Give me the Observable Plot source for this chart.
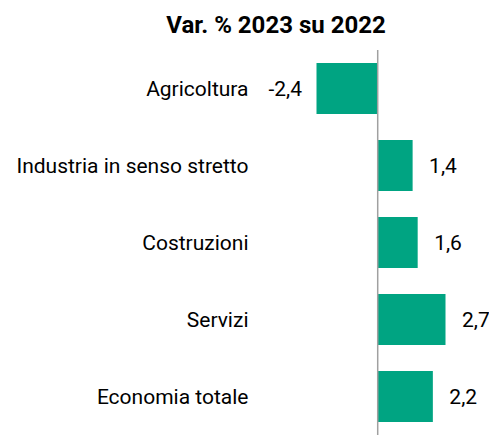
<!DOCTYPE html>
<html>
<head>
<meta charset="utf-8">
<script src="https://cdn.jsdelivr.net/npm/d3@7"></script>
<script src="https://cdn.jsdelivr.net/npm/@observablehq/plot@0.6"></script>
<style>
  html, body { margin: 0; padding: 0; background: #fff; }
  body { width: 489px; height: 435px; overflow: hidden; font-family: Roboto, sans-serif; }
  #title { box-sizing: border-box; height: 50px; padding-top: 12.8px; padding-left: 63px; width: 489px;
           text-align: center; font: bold 24px/24px Roboto, sans-serif; color: #000; }
</style>
</head>
<body>
<div id="title">Var. % 2023 su 2022</div>
<div id="chart"></div>
<script>
const categories = ["Agricoltura", "Industria in senso stretto", "Costruzioni", "Servizi", "Economia totale"];
const values = [-2.4, 1.4, 1.6, 2.7, 2.2];

const data = categories.map((c, i) => ({category: c, value: values[i]}));
const fmt = v => v.toFixed(1).replace(".", ",");

const plot = Plot.plot({
  width: 489,
  height: 385,
  marginTop: 0,
  marginBottom: 0,
  marginLeft: 316.5,
  marginRight: 43.5,
  style: {fontFamily: "Roboto, sans-serif", fontSize: "21px", color: "#000", background: "#fff"},
  x: {domain: [-2.4, 2.7], axis: null},
  y: {domain: categories, paddingInner: 0.335, paddingOuter: 0.15, label: null},
  marks: [
    Plot.barX(data, {x: "value", y: "category", fill: "#00a482"}),
    Plot.ruleX([0], {stroke: "#a0a0a0", strokeWidth: 1.5}),
    Plot.text(data.filter(d => d.value >= 0), {x: "value", y: "category", text: d => fmt(d.value), textAnchor: "start", dx: 16, fill: "#000", fontSize: 21}),
    Plot.text(data.filter(d => d.value < 0), {x: "value", y: "category", text: d => fmt(d.value), textAnchor: "end", dx: -15, fill: "#000", fontSize: 21}),
    Plot.axisY({tickSize: 0, tickPadding: 68.5, fontSize: 21, label: null, fill: "#000"})
  ]
});
document.getElementById("chart").appendChild(plot);
</script>
</body>
</html>
